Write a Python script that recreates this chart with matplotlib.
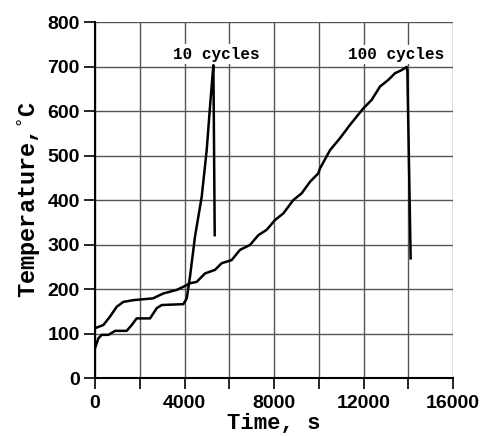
import numpy as np
import matplotlib.pyplot as plt
from matplotlib.ticker import MultipleLocator, FuncFormatter

# 10 cycles curve (time s, temperature C)
t10 = [0, 150, 300, 600, 900, 1415, 1640, 1860, 2460, 2760, 2980, 3950, 4100,
       4246, 4395, 4469, 4768, 4992, 5140, 5289, 5300, 5350]
T10 = [67, 89, 97, 97, 106, 106, 119, 134, 134, 157, 164, 166, 179,
       228, 288, 318, 407, 512, 610, 703, 650, 321]

# 100 cycles curve
t100 = [0, 372, 670, 968, 1266, 1713, 2600, 2756, 3053, 3650, 3948, 4246, 4544,
        4916, 5363, 5661, 6108, 6480, 6927, 7300, 7672, 8045, 8417, 8864, 9236,
        9609, 9981, 10056, 10503, 10950, 11397, 11993, 12365, 12737, 13110,
        13408, 13706, 13929, 13960, 14107]
T100 = [112, 119, 138, 160, 171, 175, 179, 183, 190, 198, 205, 213, 216,
        235, 243, 258, 265, 288, 299, 321, 333, 355, 370, 400, 415,
        441, 460, 471, 512, 539, 569, 606, 625, 655, 670,
        685, 692, 699, 690, 269]

labels = ["10 cycles", "100 cycles"]
label_pos = [(5430, 728), (13475, 727)]

fig = plt.figure(figsize=(4.83, 4.36), dpi=100)
ax = fig.add_axes([0.1967, 0.133, 0.7412, 0.8165])

ax.plot(t10, T10, color="black", lw=1.8)
ax.plot(t100, T100, color="black", lw=1.8)

for txt, (x, y) in zip(labels, label_pos):
    ax.text(x, y, txt, ha="center", va="center", fontsize=11.5,
            family="Liberation Mono", fontweight="bold",
            bbox=dict(facecolor="white", edgecolor="none", pad=1.5))

ax.set_xlim(0, 16000)
ax.set_ylim(0, 800)
ax.xaxis.set_major_locator(MultipleLocator(2000))
ax.yaxis.set_major_locator(MultipleLocator(100))
ax.xaxis.set_major_formatter(FuncFormatter(lambda v, p: "%d" % v if v % 4000 == 0 else ""))
ax.grid(True, color="#555555", lw=1.0)
ax.set_axisbelow(True)

for s in ["top", "right"]:
    ax.spines[s].set_visible(False)
for s in ["left", "bottom"]:
    ax.spines[s].set_linewidth(1.5)

ax.tick_params(direction="out", length=8, width=1.2, labelsize=14, pad=3)
ax.tick_params(axis="x", pad=4)
for lab in ax.get_xticklabels() + ax.get_yticklabels():
    lab.set_family("Liberation Sans")
    lab.set_fontweight("bold")

ax.set_xlabel("Time, s", family="Liberation Mono", fontweight="bold",
              fontsize=16, labelpad=1)
ax.set_ylabel("Temperature,$^{\\circ}$C", family="Liberation Mono",
              fontweight="bold", fontsize=17, labelpad=3)

fig.savefig("out.png", dpi=100)
